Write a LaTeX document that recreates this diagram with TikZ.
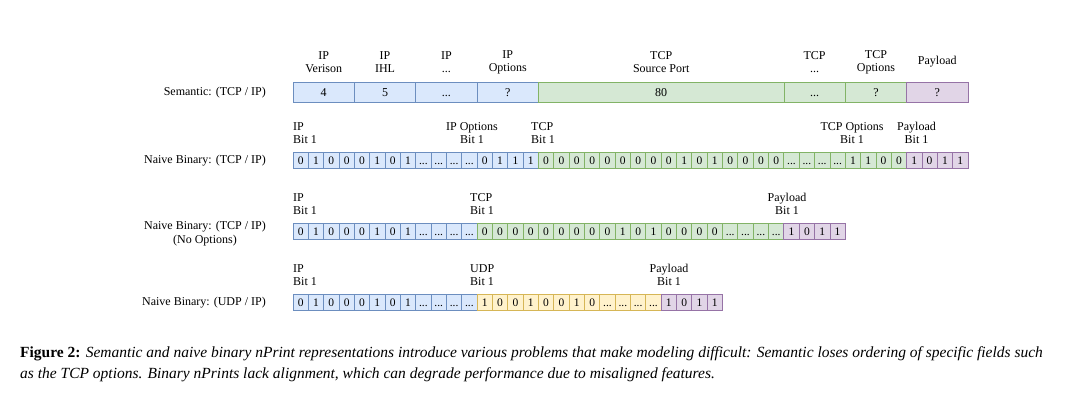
\documentclass[tikz,border=0pt]{standalone}
\usepackage{fontspec}
\setmainfont{Liberation Serif}
\definecolor{bF}{HTML}{DAE8FC}\definecolor{bD}{HTML}{6C8EBF}
\definecolor{gF}{HTML}{D5E8D4}\definecolor{gD}{HTML}{82B366}
\definecolor{pF}{HTML}{E1D5E7}\definecolor{pD}{HTML}{9673A6}
\definecolor{yF}{HTML}{FFF2CC}\definecolor{yD}{HTML}{D6B656}
\newcommand\cellv[1]{\vphantom{0}\if x#1...\else#1\fi}
\newcommand\bitrow[5]{%
  \foreach \v [count=\i] in {#5}{%
    \pgfmathsetmacro\xx{293+(#3+\i-0.5)*15.34}%
    \pgfmathtruncatemacro\k{#3+\i}%
    \node[#4] (#1c\k) at (\xx,#2) {\cellv{\v}};%
  }}
\tikzset{
  cellbase/.style={draw, line width=0.8pt, inner sep=0pt, minimum width=15.34pt, minimum height=15.5pt, font=\fontsize{11.5}{13}\selectfont},
  bl/.style={cellbase, fill=bF, draw=bD},
  gr/.style={cellbase, fill=gF, draw=gD},
  pu/.style={cellbase, fill=pF, draw=pD},
  ye/.style={cellbase, fill=yF, draw=yD},
  sem/.style={draw, line width=0.8pt, inner sep=0pt, minimum width=61.36pt, minimum height=20pt, font=\fontsize{12}{14}\selectfont},
  lab/.style={font=\fontsize{12}{13}\selectfont, align=center, inner sep=0pt},
  labl/.style={font=\fontsize{12}{13}\selectfont, align=left, inner sep=0pt, anchor=west},
  rowlab/.style={font=\fontsize{12}{14}\selectfont, align=center, inner sep=0pt, anchor=east},
  captext/.style={font=\fontsize{15.5}{18}\selectfont, inner sep=0pt, anchor=base west}
}
\begin{document}
\begin{tikzpicture}[x=1pt,y=-1pt]
\useasboundingbox[fill=white] (0,0) rectangle (1080,398);
% semantic row
\node[sem, fill=bF, draw=bD] (s1) at (323.68,92.3) {4};
\node[sem, fill=bF, draw=bD] (s2) at (385.04,92.3) {5};
\node[sem, fill=bF, draw=bD] (s3) at (446.40,92.3) {\vphantom{0}...};
\node[sem, fill=bF, draw=bD] (s4) at (507.76,92.3) {?};
\node[sem, fill=gF, draw=gD, minimum width=245.45pt] (s5) at (661.17,92.3) {80};
\node[sem, fill=gF, draw=gD] (s6) at (814.59,92.3) {\vphantom{0}...};
\node[sem, fill=gF, draw=gD] (s7) at (875.95,92.3) {?};
\node[sem, fill=pF, draw=pD] (s8) at (937.31,92.3) {?};
\node[lab] (t1) at (323.68,62) {IP\\Verison};
\node[lab] (t2) at (385.04,62) {IP\\IHL};
\node[lab] (t3) at (446.40,62) {IP\\...};
\node[lab] (t4) at (507.76,62) {IP\\Options};
\node[lab] (t5) at (661.17,62) {TCP\\Source Port};
\node[lab] (t6) at (814.59,62) {TCP\\...};
\node[lab] (t7) at (875.95,62) {TCP\\Options};
\node[lab] (t8) at (937.31,62) {Payload};
\node[rowlab] (r1) at (266,92.3) {Semantic: (TCP / IP)};
% naive binary TCP/IP
\bitrow{b}{160.5}{0}{bl}{0,1,0,0,0,1,0,1,x,x,x,x,0,1,1,1}
\bitrow{b}{160.5}{16}{gr}{0,0,0,0,0,0,0,0,0,1,0,1,0,0,0,0,x,x,x,x,1,1,0,0}
\bitrow{b}{160.5}{40}{pu}{1,0,1,1}
\node[rowlab] (r2) at (266,161) {Naive Binary: (TCP / IP)};
\node[labl] (l21) at (293,133) {IP\\Bit 1};
\node[lab] (l22) at (472,133) {IP Options\\Bit 1};
\node[labl] (l23) at (531,133) {TCP\\Bit 1};
\node[lab] (l24) at (852,133) {TCP Options\\Bit 1};
\node[lab] (l25) at (916.5,133) {Payload\\Bit 1};
% naive binary TCP/IP no options
\bitrow{c}{231.5}{0}{bl}{0,1,0,0,0,1,0,1,x,x,x,x}
\bitrow{c}{231.5}{12}{gr}{0,0,0,0,0,0,0,0,0,1,0,1,0,0,0,0,x,x,x,x}
\bitrow{c}{231.5}{32}{pu}{1,0,1,1}
\node[rowlab] (r3) at (266,234) {Naive Binary: (TCP / IP)\\(No Options)};
\node[labl] (l31) at (293,204) {IP\\Bit 1};
\node[labl] (l32) at (470,204) {TCP\\Bit 1};
\node[lab] (l33) at (787,204) {Payload\\Bit 1};
% naive binary UDP/IP
\bitrow{d}{302.5}{0}{bl}{0,1,0,0,0,1,0,1,x,x,x,x}
\bitrow{d}{302.5}{12}{ye}{1,0,0,1,0,0,1,0,x,x,x,x}
\bitrow{d}{302.5}{24}{pu}{1,0,1,1}
\node[rowlab] (r4) at (266,303) {Naive Binary: (UDP / IP)};
\node[labl] (l41) at (293,275) {IP\\Bit 1};
\node[labl] (l42) at (470,275) {UDP\\Bit 1};
\node[lab] (l43) at (669,275) {Payload\\Bit 1};
% caption
\node[captext] (c1) at (20,357) {\textbf{Figure 2:} \textit{Semantic and naive binary nPrint representations introduce various problems that make modeling difficult: Semantic loses ordering of specific fields such}};
\node[captext] (c2) at (20,378) {\textit{as the TCP options. Binary nPrints lack alignment, which can degrade performance due to misaligned features.}};
\end{tikzpicture}
\end{document}
